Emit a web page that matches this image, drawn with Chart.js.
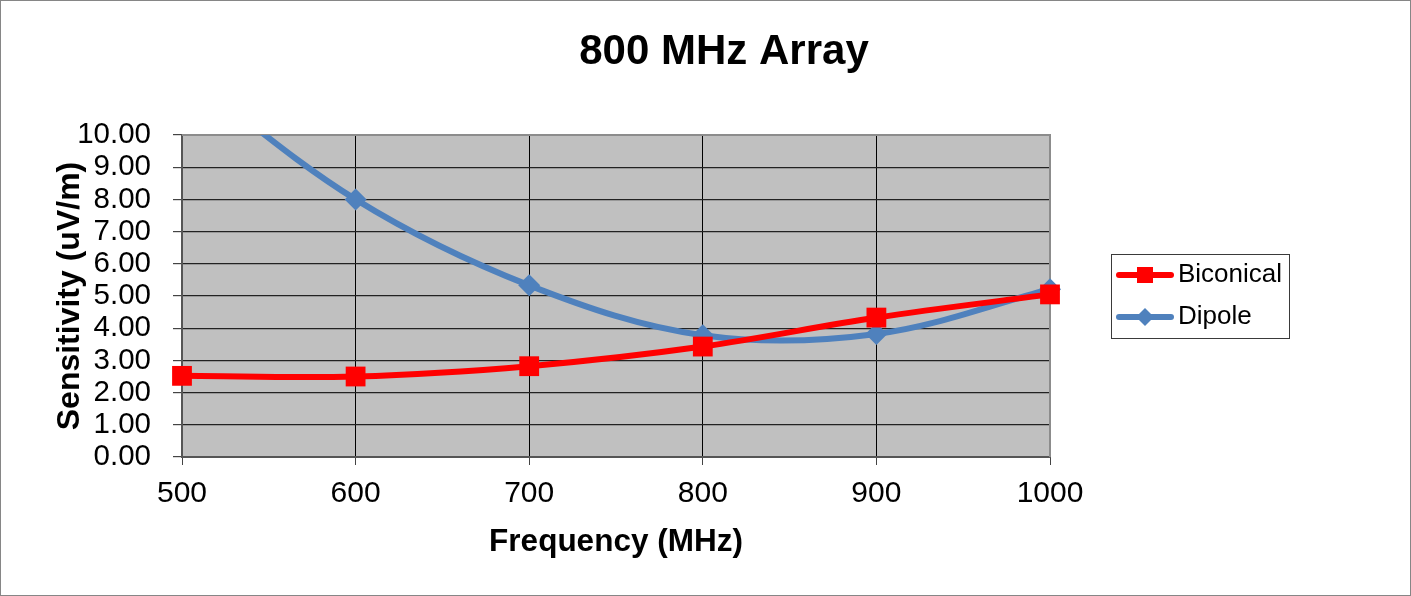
<!DOCTYPE html>
<html>
<head>
<meta charset="utf-8">
<title>800 MHz Array</title>
<script src="https://cdn.jsdelivr.net/npm/chart.js@4/dist/chart.umd.min.js"></script>
<style>
  html, body { margin: 0; padding: 0; background: #fff; }
  #wrap { position: relative; width: 1411px; height: 596px; }
</style>
</head>
<body>
<div id="wrap"><canvas id="chart"></canvas></div>
<script>
// Data
const frequencies = [500, 600, 700, 800, 900, 1000];
const biconical = [2.52, 2.50, 2.82, 3.43, 4.33, 5.05];
const dipole = [12.0, 8.00, 5.33, 3.78, 3.82, 5.21];
const seriesNames = ['Biconical', 'Dipole'];
const yTicks = [0, 1, 2, 3, 4, 5, 6, 7, 8, 9, 10];
const xTicks = [500, 600, 700, 800, 900, 1000];

const fontFamily = "'Liberation Sans', Arial, sans-serif";
const redColor = '#FF0000';
const blueColor = '#4F81BD';

/**
 * Grey plot area, its top/right border, the outer frame and the legend
 */
const chartDecor = {
    id: 'chartDecor',
    beforeDraw(chart) {
        const { ctx, chartArea: a } = chart;
        ctx.save();
        ctx.fillStyle = '#fff';
        ctx.fillRect(0, 0, chart.width, chart.height);
        ctx.fillStyle = '#C0C0C0';
        ctx.fillRect(a.left, a.top, a.right - a.left, a.bottom - a.top);
        ctx.restore();
    },
    beforeDatasetsDraw(chart) {
        const { ctx, chartArea: a } = chart;
        ctx.save();
        ctx.strokeStyle = '#8C8C8C';
        ctx.lineWidth = 2;
        ctx.beginPath();
        ctx.moveTo(a.left, a.top);
        ctx.lineTo(a.right, a.top);
        ctx.lineTo(a.right, a.bottom);
        ctx.stroke();
        ctx.restore();
    },
    afterDraw(chart) {
        const ctx = chart.ctx;
        ctx.save();
        // outer frame
        ctx.strokeStyle = '#868686';
        ctx.lineWidth = 1;
        ctx.strokeRect(0.5, 0.5, chart.width - 1, chart.height - 1);

        // legend box
        const lx = 1111, ly = 254, lw = 178, lh = 84;
        ctx.strokeStyle = '#3a3a3a';
        ctx.strokeRect(lx + 0.5, ly + 0.5, lw, lh);

        const rows = [
            { name: seriesNames[0], color: redColor, shape: 'rect', y: 275 },
            { name: seriesNames[1], color: blueColor, shape: 'diamond', y: 317 }
        ];
        rows.forEach(row => {
            ctx.strokeStyle = row.color;
            ctx.lineWidth = 6;
            ctx.lineCap = 'round';
            ctx.beginPath();
            ctx.moveTo(1119, row.y);
            ctx.lineTo(1171, row.y);
            ctx.stroke();
            ctx.fillStyle = row.color;
            ctx.beginPath();
            if (row.shape === 'rect') {
                ctx.rect(1137, row.y - 8, 16, 16);
            } else {
                ctx.moveTo(1145, row.y - 9);
                ctx.lineTo(1154, row.y);
                ctx.lineTo(1145, row.y + 9);
                ctx.lineTo(1136, row.y);
                ctx.closePath();
            }
            ctx.fill();
            ctx.fillStyle = '#000';
            ctx.font = '26px ' + fontFamily;
            ctx.textAlign = 'left';
            ctx.textBaseline = 'middle';
            ctx.fillText(row.name, 1178, row.y);
        });
        ctx.restore();
    }
};

new Chart(document.getElementById('chart'), {
    type: 'line',
    data: {
        datasets: [{
            label: seriesNames[0],
            data: frequencies.map((f, i) => ({ x: f, y: biconical[i] })),
            borderColor: redColor,
            backgroundColor: redColor,
            borderWidth: 6,
            pointStyle: 'rect',
            pointRadius: 14,
            pointBorderWidth: 0,
            pointHoverRadius: 14,
            tension: 0.35,
            clip: false
        }, {
            label: seriesNames[1],
            data: frequencies.map((f, i) => ({ x: f, y: dipole[i] })),
            borderColor: blueColor,
            backgroundColor: blueColor,
            borderWidth: 6,
            pointStyle: 'rectRot',
            pointRadius: 11,
            pointBorderWidth: 0,
            pointHoverRadius: 11,
            tension: 0.35,
            capBezierPoints: false,
            clip: { left: false, right: false, top: 0, bottom: false }
        }]
    },
    options: {
        responsive: true,
        maintainAspectRatio: false,
        animation: false,
        events: [],
        layout: { padding: { left: 37, right: 0, top: 0, bottom: 0 } },
        plugins: {
            legend: { display: false },
            tooltip: { enabled: false },
            title: {
                display: true,
                text: '800 MHz Array',
                color: '#000',
                font: { family: fontFamily, size: 42, weight: 'bold' },
                padding: { top: 27, bottom: 57.6 }
            }
        },
        scales: {
            x: {
                type: 'linear',
                min: xTicks[0],
                max: xTicks[xTicks.length - 1],
                afterBuildTicks: (axis) => { axis.ticks = xTicks.map(v => ({ value: v })); },
                afterFit: (axis) => { axis.height = 139; },
                grid: { color: '#000', lineWidth: 1, tickLength: 8, tickColor: '#444' },
                border: { color: '#555', width: 2 },
                ticks: {
                    color: '#000',
                    padding: 11,
                    maxRotation: 0,
                    autoSkip: false,
                    font: { family: fontFamily, size: 30 },
                    callback: (v) => String(v)
                },
                title: {
                    display: true,
                    text: 'Frequency (MHz)',
                    color: '#000',
                    font: { family: fontFamily, size: 31.5, weight: 'bold' },
                    padding: { top: 0, bottom: 35 }
                }
            },
            y: {
                min: 0,
                max: 10,
                afterBuildTicks: (axis) => { axis.ticks = yTicks.map(v => ({ value: v })); },
                afterFit: (axis) => { axis.width = 145; },
                grid: { color: '#222', lineWidth: 1.2, tickLength: 9, tickColor: '#444' },
                border: { color: '#555', width: 2 },
                ticks: {
                    color: '#000',
                    padding: 22,
                    autoSkip: false,
                    font: { family: fontFamily, size: 29.5 },
                    callback: (v) => v.toFixed(2)
                },
                title: {
                    display: true,
                    text: 'Sensitivity (uV/m)',
                    color: '#000',
                    font: { family: fontFamily, size: 32, weight: 'bold' },
                    padding: { top: 14, bottom: 0 }
                }
            },
            // empty axis that keeps room on the right for the legend
            yRight: {
                position: 'right',
                min: 0,
                max: 10,
                afterFit: (axis) => { axis.width = 361; },
                grid: { display: false, drawTicks: false },
                border: { display: false },
                ticks: { display: false }
            }
        }
    },
    plugins: [chartDecor]
});
</script>
</body>
</html>
